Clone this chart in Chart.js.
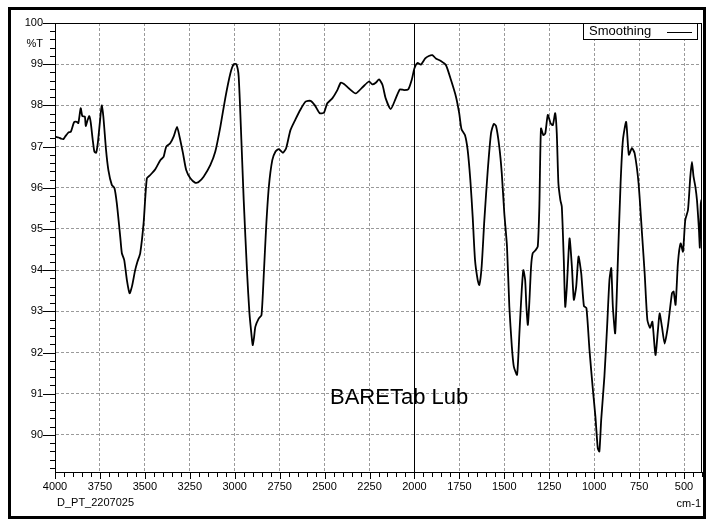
<!DOCTYPE html>
<html>
<head>
<meta charset="utf-8">
<script src="https://cdn.jsdelivr.net/npm/chart.js@4/dist/chart.umd.min.js"></script>
<style>
  html, body { margin: 0; padding: 0; background: #fff; }
  #wrap { width: 706px; height: 520px; }
</style>
</head>
<body>
<div id="wrap"><canvas id="myChart" width="706" height="520"></canvas></div>
<script>
// spectrum (cm-1 -> %T)
const wavenumbers = [
  4000, 3980, 3965, 3954, 3944, 3926, 3912, 3894, 3879, 3870, 3857, 3848, 3834, 3829, 3818, 3809, 3801, 3790, 3781, 3771,
  3762, 3750, 3740, 3731, 3716, 3703, 3684, 3669, 3656, 3637, 3628, 3615, 3600, 3585, 3572, 3554, 3541, 3526, 3507, 3489,
  3470, 3442, 3414, 3396, 3381, 3359, 3340, 3321, 3307, 3288, 3270, 3247, 3219, 3201, 3173, 3136, 3108, 3080, 3052, 3024,
  3006, 2991, 2978, 2963, 2950, 2931, 2918, 2906, 2900, 2893, 2885, 2866, 2851, 2838, 2825, 2810, 2791, 2773, 2755, 2732,
  2714, 2690, 2662, 2634, 2606, 2578, 2554, 2527, 2504, 2485, 2457, 2429, 2410, 2392, 2364, 2327, 2289, 2253, 2234, 2215,
  2197, 2178, 2160, 2132, 2104, 2081, 2058, 2034, 2015, 2000, 1983, 1964, 1940, 1920, 1900, 1881, 1853, 1825, 1797, 1769,
  1751, 1738, 1719, 1704, 1689, 1676, 1663, 1648, 1639, 1626, 1611, 1592, 1574, 1559, 1546, 1528, 1514, 1500, 1485, 1472,
  1458, 1447, 1429, 1416, 1403, 1394, 1384, 1377, 1369, 1360, 1351, 1342, 1329, 1314, 1305, 1296, 1283, 1272, 1258, 1243,
  1230, 1217, 1208, 1199, 1188, 1180, 1169, 1161, 1152, 1137, 1124, 1113, 1100, 1087, 1072, 1057, 1043, 1026, 1007, 993,
  980, 971, 961, 943, 928, 915, 905, 896, 883, 868, 853, 840, 822, 807, 790, 775, 753, 734, 719, 704,
  689, 676, 659, 645, 636, 623, 608, 590, 567, 558, 547, 534, 519, 506, 493, 478, 465, 456, 447, 437,
  428, 417, 412, 407, 403, 400
];
const transmittance = [
  97.24, 97.22, 97.19, 97.18, 97.24, 97.34, 97.36, 97.59, 97.60, 97.57, 97.93, 97.74, 97.73, 97.50, 97.65, 97.74, 97.58, 97.16, 96.88, 96.85,
  97.08, 97.60, 98.00, 97.73, 96.92, 96.43, 96.07, 95.99, 95.62, 94.81, 94.41, 94.25, 93.76, 93.44, 93.60, 94.00, 94.21, 94.41, 95.14, 96.23,
  96.31, 96.45, 96.67, 96.75, 97.00, 97.08, 97.24, 97.48, 97.24, 96.84, 96.43, 96.23, 96.12, 96.14, 96.27, 96.55, 96.88, 97.48, 98.19, 98.78,
  99.00, 99.00, 98.70, 97.16, 95.70, 93.92, 92.95, 92.40, 92.18, 92.35, 92.63, 92.83, 92.91, 93.92, 95.06, 96.03, 96.67, 96.88, 96.94, 96.85,
  96.96, 97.40, 97.66, 97.90, 98.09, 98.11, 98.00, 97.81, 97.82, 98.05, 98.17, 98.37, 98.55, 98.52, 98.41, 98.29, 98.44, 98.58, 98.51, 98.55,
  98.63, 98.50, 98.17, 97.91, 98.17, 98.39, 98.37, 98.39, 98.62, 98.90, 99.03, 98.99, 99.14, 99.20, 99.22, 99.14, 99.08, 98.98, 98.62, 98.21,
  97.81, 97.42, 97.28, 96.92, 96.19, 95.30, 94.25, 93.76, 93.64, 94.09, 95.22, 96.43, 97.32, 97.55, 97.50, 97.00, 96.35, 95.38, 94.57, 93.11,
  92.14, 91.66, 91.46, 92.47, 93.52, 94.00, 93.76, 93.11, 92.67, 93.28, 94.09, 94.41, 94.47, 94.57, 95.54, 97.44, 97.28, 97.32, 97.77, 97.57,
  97.52, 97.81, 97.32, 96.11, 95.70, 95.54, 94.25, 93.11, 93.60, 94.77, 94.09, 93.28, 93.60, 94.33, 93.92, 93.13, 93.08, 92.06, 91.09, 90.44,
  89.68, 89.60, 90.36, 91.42, 92.63, 93.76, 94.05, 93.11, 92.47, 94.25, 96.11, 97.16, 97.60, 96.80, 96.96, 96.84, 96.11, 94.90, 93.92, 92.79,
  92.60, 92.75, 91.94, 92.55, 92.95, 92.63, 92.22, 92.63, 93.44, 93.48, 93.16, 94.17, 94.65, 94.45, 95.22, 95.46, 96.27, 96.63, 96.27, 96.03,
  95.70, 94.98, 94.55, 95.60, 95.70, 94.40
];

// axis labels
const xLabelTicks = [4000, 3750, 3500, 3250, 3000, 2750, 2500, 2250, 2000, 1750, 1500, 1250, 1000, 750, 500];
const yLabelTicks = [100, 99, 98, 97, 96, 95, 94, 93, 92, 91, 90];
const xMin = 400, xMax = 4000, yMin = 89.1, yMax = 100;

const font = 'Liberation Sans, Arial, sans-serif';
const isInt = v => Math.abs(v - Math.round(v)) < 1e-6;

const points = wavenumbers.map((w, i) => ({ x: w, y: transmittance[i] }));

const xTicks = [];
for (let v = xMin; v <= xMax; v += 50) xTicks.push(v);
const yTicks = [];
for (let i = 0; yMax - i * 0.2 >= yMin; i++) yTicks.push(+(yMax - i * 0.2).toFixed(1));
yTicks.push(99.5); // slot for the %T unit label
yTicks.sort((a, b) => a - b);

const decor = {
  id: 'decor',
  afterDraw(chart) {
    const { ctx, chartArea: ca, scales: { x, y } } = chart;
    ctx.save();
    ctx.strokeStyle = '#000';
    ctx.lineWidth = 1;

    // tick marks, long on labelled values
    ctx.beginPath();
    yTicks.forEach(v => {
      if (v === 99.5) return;
      const py = Math.round(y.getPixelForValue(v)) + 0.5;
      const len = isInt(v) ? 12 : 5;
      ctx.moveTo(ca.left - len, py); ctx.lineTo(ca.left, py);
    });
    xTicks.forEach(v => {
      const px = Math.round(x.getPixelForValue(v)) + 0.5;
      const len = v % 250 === 0 ? 7 : 5;
      ctx.moveTo(px, ca.bottom); ctx.lineTo(px, ca.bottom + len);
    });
    ctx.stroke();

    // solid marker line at 2000
    const p2000 = Math.round(x.getPixelForValue(2000)) + 0.5;
    ctx.beginPath();
    ctx.moveTo(p2000, ca.top); ctx.lineTo(p2000, ca.bottom);
    ctx.stroke();

    // plot box
    ctx.strokeRect(Math.round(ca.left) + 0.5, Math.round(ca.top) + 0.5,
      Math.round(ca.right - ca.left) - 1, Math.round(ca.bottom - ca.top));

    // legend box
    ctx.fillStyle = '#fff';
    ctx.fillRect(583, 23, 114, 16);
    ctx.strokeRect(583.5, 23.5, 114, 16);
    ctx.fillStyle = '#000';
    ctx.font = '13px ' + font;
    ctx.textBaseline = 'alphabetic';
    ctx.textAlign = 'left';
    ctx.fillText('Smoothing', 589, 35);
    ctx.beginPath();
    ctx.moveTo(667, 32.5); ctx.lineTo(692, 32.5);
    ctx.stroke();

    // texts
    ctx.font = '22px ' + font;
    ctx.fillText('BARETab Lub', 330, 404);
    ctx.font = '11px ' + font;
    ctx.fillText('D_PT_2207025', 57, 506);
    ctx.textAlign = 'right';
    ctx.fillText('cm-1', 701, 507);

    // outer frame
    ctx.lineWidth = 3;
    ctx.strokeRect(9.5, 8.5, 695, 509);
    ctx.restore();
  }
};

const ctx = document.getElementById('myChart');

new Chart(ctx, {
  type: 'line',
  data: {
    datasets: [{
      label: 'Smoothing',
      data: points,
      borderColor: '#000',
      borderWidth: 1.8,
      pointRadius: 0,
      tension: 0.2,
      fill: false
    }]
  },
  options: {
    responsive: false,
    animation: false,
    layout: { padding: { left: 0, top: 23, right: 4, bottom: 0 } },
    plugins: { legend: { display: false }, tooltip: { enabled: false } },
    scales: {
      x: {
        type: 'linear',
        reverse: true,
        min: xMin,
        max: xMax,
        afterBuildTicks: s => { s.ticks = xTicks.map(v => ({ value: v })); },
        afterFit: s => { s.height = 48; },
        grid: {
          drawTicks: false,
          lineWidth: 1,
          color: c => (c.tick && c.tick.value % 250 === 0 && c.tick.value !== 4000 && c.tick.value !== 2000) ? '#9a9a9a' : 'rgba(0,0,0,0)'
        },
        border: { color: '#000', width: 1, dash: [3, 2] },
        ticks: {
          autoSkip: false,
          maxRotation: 0,
          padding: 8,
          color: '#000',
          font: { family: font, size: 11 },
          callback: v => xLabelTicks.includes(v) ? String(v) : ''
        }
      },
      y: {
        min: yMin,
        max: yMax,
        afterBuildTicks: s => { s.ticks = yTicks.map(v => ({ value: v })); },
        afterFit: s => { s.width = 55; },
        grid: {
          drawTicks: false,
          lineWidth: 1,
          color: c => (c.tick && isInt(c.tick.value) && c.tick.value < 100) ? '#9a9a9a' : 'rgba(0,0,0,0)'
        },
        border: { color: '#000', width: 1, dash: [3, 2] },
        ticks: {
          autoSkip: false,
          padding: 12,
          color: '#000',
          font: { family: font, size: 11 },
          callback: v => {
            if (Math.abs(v - 99.5) < 1e-6) return '%T';
            return yLabelTicks.some(t => Math.abs(t - v) < 1e-6) ? String(Math.round(v)) : '';
          }
        }
      }
    }
  },
  plugins: [decor]
});
</script>
</body>
</html>
